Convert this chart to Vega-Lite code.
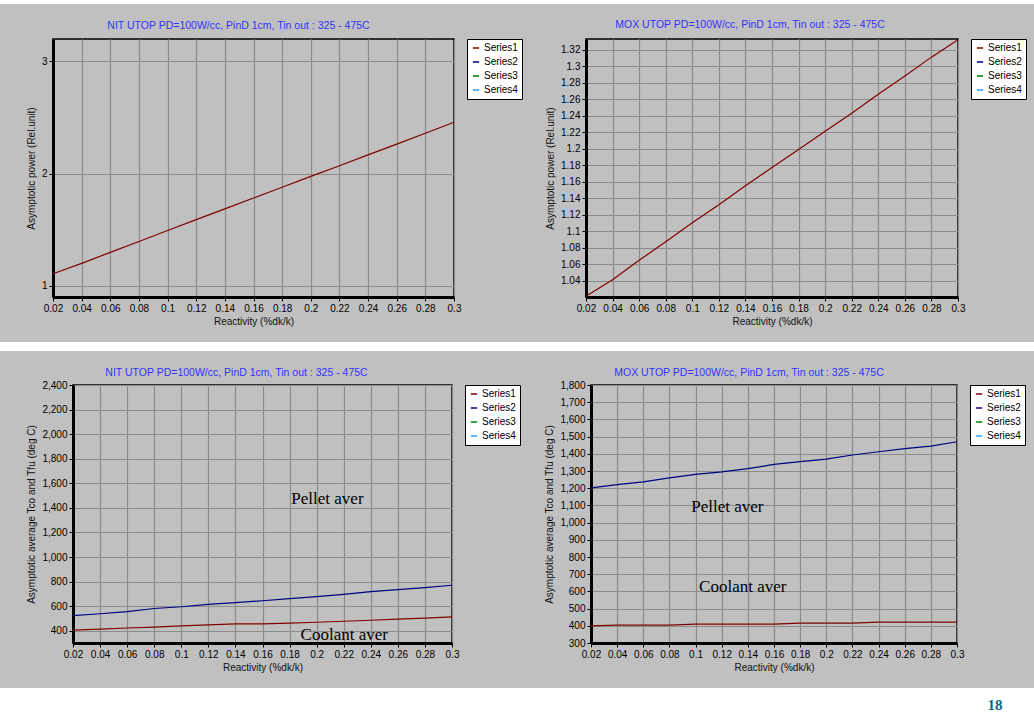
{
  "$schema": "https://vega.github.io/schema/vega-lite/v6.json",
  "padding": 0,
  "background": "#c0c0c0",
  "spacing": 15,
  "datasets": {
    "nitPower": [
      {"reactivity": 0.02, "value": 1.107, "series": "Series1"},
      {"reactivity": 0.04, "value": 1.2, "series": "Series1"},
      {"reactivity": 0.06, "value": 1.298, "series": "Series1"},
      {"reactivity": 0.08, "value": 1.395, "series": "Series1"},
      {"reactivity": 0.1, "value": 1.493, "series": "Series1"},
      {"reactivity": 0.12, "value": 1.59, "series": "Series1"},
      {"reactivity": 0.14, "value": 1.686, "series": "Series1"},
      {"reactivity": 0.16, "value": 1.782, "series": "Series1"},
      {"reactivity": 0.18, "value": 1.878, "series": "Series1"},
      {"reactivity": 0.2, "value": 1.975, "series": "Series1"},
      {"reactivity": 0.22, "value": 2.07, "series": "Series1"},
      {"reactivity": 0.24, "value": 2.167, "series": "Series1"},
      {"reactivity": 0.26, "value": 2.263, "series": "Series1"},
      {"reactivity": 0.28, "value": 2.36, "series": "Series1"},
      {"reactivity": 0.3, "value": 2.458, "series": "Series1"}
    ],
    "moxPower": [
      {"reactivity": 0.02, "value": 1.021, "series": "Series1"},
      {"reactivity": 0.04, "value": 1.041, "series": "Series1"},
      {"reactivity": 0.06, "value": 1.0645, "series": "Series1"},
      {"reactivity": 0.08, "value": 1.087, "series": "Series1"},
      {"reactivity": 0.1, "value": 1.11, "series": "Series1"},
      {"reactivity": 0.12, "value": 1.132, "series": "Series1"},
      {"reactivity": 0.14, "value": 1.155, "series": "Series1"},
      {"reactivity": 0.16, "value": 1.177, "series": "Series1"},
      {"reactivity": 0.18, "value": 1.199, "series": "Series1"},
      {"reactivity": 0.2, "value": 1.221, "series": "Series1"},
      {"reactivity": 0.22, "value": 1.243, "series": "Series1"},
      {"reactivity": 0.24, "value": 1.266, "series": "Series1"},
      {"reactivity": 0.26, "value": 1.288, "series": "Series1"},
      {"reactivity": 0.28, "value": 1.311, "series": "Series1"},
      {"reactivity": 0.3, "value": 1.332, "series": "Series1"}
    ],
    "nitTemp": [
      {"reactivity": 0.02, "value": 405, "series": "Series1"},
      {"reactivity": 0.04, "value": 413, "series": "Series1"},
      {"reactivity": 0.06, "value": 422, "series": "Series1"},
      {"reactivity": 0.08, "value": 430, "series": "Series1"},
      {"reactivity": 0.1, "value": 439, "series": "Series1"},
      {"reactivity": 0.12, "value": 447, "series": "Series1"},
      {"reactivity": 0.14, "value": 455, "series": "Series1"},
      {"reactivity": 0.16, "value": 455, "series": "Series1"},
      {"reactivity": 0.18, "value": 462, "series": "Series1"},
      {"reactivity": 0.2, "value": 469, "series": "Series1"},
      {"reactivity": 0.22, "value": 477, "series": "Series1"},
      {"reactivity": 0.24, "value": 485, "series": "Series1"},
      {"reactivity": 0.26, "value": 494, "series": "Series1"},
      {"reactivity": 0.28, "value": 503, "series": "Series1"},
      {"reactivity": 0.3, "value": 513, "series": "Series1"},
      {"reactivity": 0.02, "value": 523, "series": "Series2"},
      {"reactivity": 0.04, "value": 538, "series": "Series2"},
      {"reactivity": 0.06, "value": 556, "series": "Series2"},
      {"reactivity": 0.08, "value": 581, "series": "Series2"},
      {"reactivity": 0.1, "value": 595, "series": "Series2"},
      {"reactivity": 0.12, "value": 614, "series": "Series2"},
      {"reactivity": 0.14, "value": 628, "series": "Series2"},
      {"reactivity": 0.16, "value": 644, "series": "Series2"},
      {"reactivity": 0.18, "value": 661, "series": "Series2"},
      {"reactivity": 0.2, "value": 677, "series": "Series2"},
      {"reactivity": 0.22, "value": 696, "series": "Series2"},
      {"reactivity": 0.24, "value": 718, "series": "Series2"},
      {"reactivity": 0.26, "value": 735, "series": "Series2"},
      {"reactivity": 0.28, "value": 751, "series": "Series2"},
      {"reactivity": 0.3, "value": 770, "series": "Series2"}
    ],
    "moxTemp": [
      {"reactivity": 0.02, "value": 400, "series": "Series1"},
      {"reactivity": 0.04, "value": 404, "series": "Series1"},
      {"reactivity": 0.06, "value": 404, "series": "Series1"},
      {"reactivity": 0.08, "value": 404, "series": "Series1"},
      {"reactivity": 0.1, "value": 410, "series": "Series1"},
      {"reactivity": 0.12, "value": 410, "series": "Series1"},
      {"reactivity": 0.14, "value": 410, "series": "Series1"},
      {"reactivity": 0.16, "value": 410, "series": "Series1"},
      {"reactivity": 0.18, "value": 416, "series": "Series1"},
      {"reactivity": 0.2, "value": 416, "series": "Series1"},
      {"reactivity": 0.22, "value": 416, "series": "Series1"},
      {"reactivity": 0.24, "value": 421, "series": "Series1"},
      {"reactivity": 0.26, "value": 421, "series": "Series1"},
      {"reactivity": 0.28, "value": 421, "series": "Series1"},
      {"reactivity": 0.3, "value": 421, "series": "Series1"},
      {"reactivity": 0.02, "value": 1202, "series": "Series2"},
      {"reactivity": 0.04, "value": 1221, "series": "Series2"},
      {"reactivity": 0.06, "value": 1237, "series": "Series2"},
      {"reactivity": 0.08, "value": 1260, "series": "Series2"},
      {"reactivity": 0.1, "value": 1280, "series": "Series2"},
      {"reactivity": 0.12, "value": 1295, "series": "Series2"},
      {"reactivity": 0.14, "value": 1314, "series": "Series2"},
      {"reactivity": 0.16, "value": 1338, "series": "Series2"},
      {"reactivity": 0.18, "value": 1354, "series": "Series2"},
      {"reactivity": 0.2, "value": 1369, "series": "Series2"},
      {"reactivity": 0.22, "value": 1393, "series": "Series2"},
      {"reactivity": 0.24, "value": 1412, "series": "Series2"},
      {"reactivity": 0.26, "value": 1430, "series": "Series2"},
      {"reactivity": 0.28, "value": 1445, "series": "Series2"},
      {"reactivity": 0.3, "value": 1470, "series": "Series2"}
    ],
    "nitLabels": [
      {"reactivity": 0.208, "value": 1472, "label": "Pellet aver"},
      {"reactivity": 0.2204, "value": 368, "label": "Coolant aver"}
    ],
    "moxLabels": [
      {"reactivity": 0.1243, "value": 1092, "label": "Pellet aver"},
      {"reactivity": 0.1361, "value": 626, "label": "Coolant aver"}
    ]
  },
  "vconcat": [
    {
      "width": 1034, "height": 4,
      "view": {"fill": "white", "stroke": null},
      "data": {"values": []},
      "mark": "text",
      "encoding": {}
    },
    {
      "spacing": 20,
      "resolve": {"scale": {"color": "independent"}, "legend": {"color": "independent"}},
      "hconcat": [
        {
          "width": 5, "height": 258,
          "view": {"fill": null, "stroke": null},
          "data": {"values": []},
          "mark": "text",
          "encoding": {}
        },
        {
          "width": 401, "height": 258,
          "title": {"text": "NIT UTOP PD=100W/cc, PinD 1cm, Tin out : 325 - 475C", "dx": -15, "offset": 7},
          "data": {"name": "nitPower"},
          "mark": {"type": "line", "strokeWidth": 1.2},
          "encoding": {
            "x": {"field": "reactivity", "type": "quantitative", "title": "Reactivity (%dk/k)",
                  "scale": {"domain": [0.02, 0.3], "nice": false, "zero": false},
                  "axis": {"values": [0.02,0.04,0.06,0.08,0.1,0.12,0.14,0.16,0.18,0.2,0.22,0.24,0.26,0.28,0.3], "format": ".2~f"}},
            "y": {"field": "value", "type": "quantitative", "title": "Asymptotic power (Rel.unit)",
                  "scale": {"domain": [0.9, 3.2], "nice": false, "zero": false},
                  "axis": {"values": [1, 2, 3], "format": "d"}},
            "color": {"field": "series", "type": "nominal",
                      "scale": {"domain": ["Series1", "Series2", "Series3", "Series4"], "range": ["#800000", "#000080", "#008000", "#3399ff"]},
                      "legend": {"title": null, "offset": 10}}
          }
        },
        {
          "width": 372, "height": 258,
          "title": {"text": "MOX UTOP PD=100W/cc, PinD 1cm, Tin out : 325 - 475C", "dx": -22, "offset": 7},
          "data": {"name": "moxPower"},
          "mark": {"type": "line", "strokeWidth": 1.2},
          "encoding": {
            "x": {"field": "reactivity", "type": "quantitative", "title": "Reactivity (%dk/k)",
                  "scale": {"domain": [0.02, 0.3], "nice": false, "zero": false},
                  "axis": {"values": [0.02,0.04,0.06,0.08,0.1,0.12,0.14,0.16,0.18,0.2,0.22,0.24,0.26,0.28,0.3], "format": ".2~f"}},
            "y": {"field": "value", "type": "quantitative", "title": "Asymptotic power (Rel.unit)",
                  "scale": {"domain": [1.02, 1.333], "nice": false, "zero": false},
                  "axis": {"values": [1.04,1.06,1.08,1.1,1.12,1.14,1.16,1.18,1.2,1.22,1.24,1.26,1.28,1.3,1.32], "format": ".2~f"}},
            "color": {"field": "series", "type": "nominal",
                      "scale": {"domain": ["Series1", "Series2", "Series3", "Series4"], "range": ["#800000", "#000080", "#008000", "#3399ff"]},
                      "legend": {"title": null, "offset": 10}}
          }
        }
      ]
    },
    {
      "width": 1034, "height": 9,
      "view": {"fill": "white", "stroke": null},
      "data": {"values": []},
      "mark": "text",
      "encoding": {}
    },
    {
      "spacing": 22,
      "resolve": {"scale": {"color": "independent"}, "legend": {"color": "independent"}},
      "hconcat": [
        {
          "width": 4, "height": 258,
          "view": {"fill": null, "stroke": null},
          "data": {"values": []},
          "mark": "text",
          "encoding": {}
        },
        {
          "width": 379, "height": 258,
          "title": {"text": "NIT UTOP PD=100W/cc, PinD 1cm, Tin out : 325 - 475C", "dx": -26, "offset": 2},
          "encoding": {
            "x": {"field": "reactivity", "type": "quantitative", "title": "Reactivity (%dk/k)",
                  "scale": {"domain": [0.02, 0.3], "nice": false, "zero": false},
                  "axis": {"values": [0.02,0.04,0.06,0.08,0.1,0.12,0.14,0.16,0.18,0.2,0.22,0.24,0.26,0.28,0.3], "format": ".2~f"}},
            "y": {"field": "value", "type": "quantitative", "title": "Asymptotic average Tco and Tfu (deg C)",
                  "scale": {"domain": [300, 2400], "nice": false, "zero": false},
                  "axis": {"values": [400,600,800,1000,1200,1400,1600,1800,2000,2200,2400], "format": ",d"}}
          },
          "layer": [
            {
              "data": {"name": "nitTemp"},
              "mark": {"type": "line", "strokeWidth": 1.2},
              "encoding": {
                "color": {"field": "series", "type": "nominal",
                          "scale": {"domain": ["Series1", "Series2", "Series3", "Series4"], "range": ["#800000", "#000080", "#008000", "#3399ff"]},
                          "legend": {"title": null, "offset": 10}}
              }
            },
            {
              "data": {"name": "nitLabels"},
              "mark": {"type": "text", "font": "Liberation Serif", "fontSize": 17, "color": "#000000", "align": "center", "baseline": "middle"},
              "encoding": {"text": {"field": "label"}}
            }
          ]
        },
        {
          "width": 366, "height": 258,
          "title": {"text": "MOX UTOP PD=100W/cc, PinD 1cm, Tin out : 325 - 475C", "dx": -25, "offset": 2},
          "encoding": {
            "x": {"field": "reactivity", "type": "quantitative", "title": "Reactivity (%dk/k)",
                  "scale": {"domain": [0.02, 0.3], "nice": false, "zero": false},
                  "axis": {"values": [0.02,0.04,0.06,0.08,0.1,0.12,0.14,0.16,0.18,0.2,0.22,0.24,0.26,0.28,0.3], "format": ".2~f"}},
            "y": {"field": "value", "type": "quantitative", "title": "Asymptotic average Tco and Tfu (deg C)",
                  "scale": {"domain": [300, 1800], "nice": false, "zero": false},
                  "axis": {"values": [300,400,500,600,700,800,900,1000,1100,1200,1300,1400,1500,1600,1700,1800], "format": ",d"}}
          },
          "layer": [
            {
              "data": {"name": "moxTemp"},
              "mark": {"type": "line", "strokeWidth": 1.2},
              "encoding": {
                "color": {"field": "series", "type": "nominal",
                          "scale": {"domain": ["Series1", "Series2", "Series3", "Series4"], "range": ["#800000", "#000080", "#008000", "#3399ff"]},
                          "legend": {"title": null, "offset": 10}}
              }
            },
            {
              "data": {"name": "moxLabels"},
              "mark": {"type": "text", "font": "Liberation Serif", "fontSize": 17, "color": "#000000", "align": "center", "baseline": "middle"},
              "encoding": {"text": {"field": "label"}}
            }
          ]
        }
      ]
    },
    {
      "width": 1034, "height": 34,
      "view": {"fill": "white", "stroke": null},
      "data": {"values": [{"page": "18"}]},
      "mark": {"type": "text", "align": "center", "baseline": "middle", "font": "Liberation Serif", "fontSize": 15, "fontWeight": "bold", "color": "#17687f", "dx": -39},
      "encoding": {"text": {"field": "page"}, "x": {"value": "width"}}
    }
  ],
  "resolve": {"scale": {"color": "independent"}, "legend": {"color": "independent"}},
  "config": {
    "font": "Liberation Sans",
    "view": {"stroke": "#000000", "strokeWidth": 1.5},
    "axis": {
      "labelFont": "Liberation Sans", "labelFontSize": 10, "labelColor": "#000000",
      "titleFont": "Liberation Sans", "titleFontSize": 10, "titleFontWeight": "normal", "titleColor": "#111111",
      "gridColor": "#8c8c8c", "gridWidth": 1.2, "gridOpacity": 1,
      "domainColor": "#000000", "domainWidth": 3,
      "tickColor": "#000000", "tickSize": 4, "tickWidth": 1,
      "labelPadding": 2, "labelFlush": false, "labelOverlap": false
    },
    "axisX": {"titlePadding": 3},
    "axisY": {"titlePadding": 5},
    "title": {"font": "Liberation Sans", "fontSize": 10.5, "fontWeight": "normal", "color": "#3333ff"},
    "legend": {
      "fillColor": "white", "strokeColor": "black", "padding": 4, "offset": 10,
      "labelFont": "Liberation Sans", "labelFontSize": 10, "labelColor": "#000000",
      "symbolType": "stroke", "symbolSize": 40, "symbolStrokeWidth": 1.5,
      "rowPadding": 4, "labelOffset": 3
    }
  }
}
